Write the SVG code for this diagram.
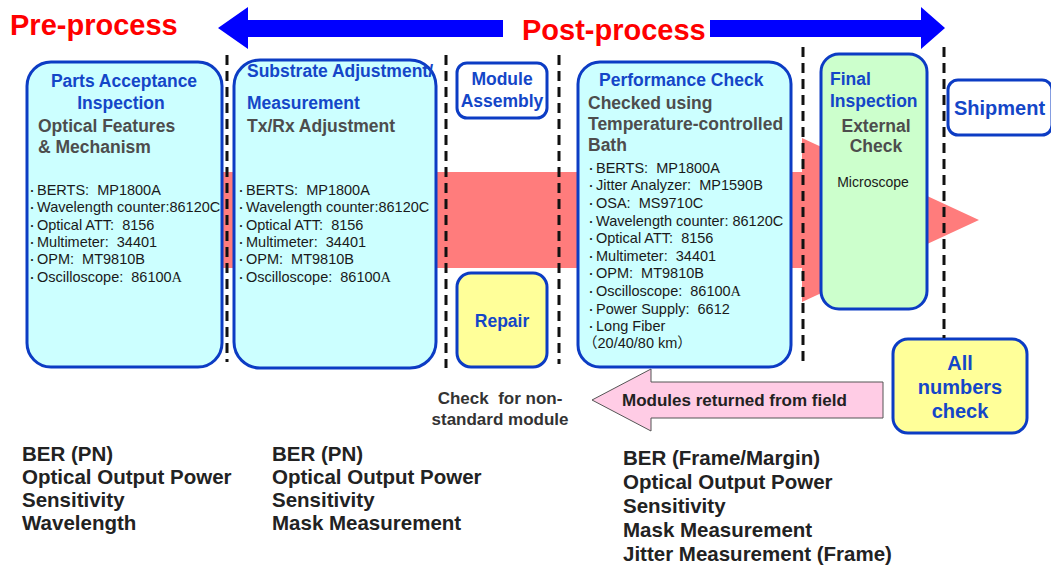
<svg xmlns="http://www.w3.org/2000/svg" width="1051" height="569" viewBox="0 0 1051 569">
<style>
text{font-family:"Liberation Sans",Arial,"Noto Sans CJK JP",sans-serif;white-space:pre}
.box{stroke:#0c3cc4;stroke-width:3}
.cyan{fill:#ccffff}.green{fill:#ccffcc}.yellow{fill:#ffff99}.white{fill:#ffffff}
.ttl{font-weight:bold;font-size:17.5px;fill:#1446c8}
.sub{font-weight:bold;font-size:17.5px;fill:#4d4d4d}
.li{font-size:14.5px;fill:#1a1a1a}
.b{font-size:10px}
.bot{font-weight:bold;font-size:20.5px;fill:#222}
.big{font-weight:bold;font-size:29px;fill:#ff0000}
.dash{stroke:#111;stroke-width:3;stroke-dasharray:10 6;fill:none}
.ser{font-family:"Liberation Serif","Times New Roman",serif}
</style>
<g id="flow-band">
<polygon points="222,172 802,172 802,138 979,220 802,302 802,268 222,268" fill="#ff7c7c"/>
</g>
<g id="direction-arrows">
<polygon points="218,28 248,7 248,20 503,20 503,37 248,37 248,49" fill="#0000ff"/>
<polygon points="945,28 921,7 921,20 710,20 710,37 921,37 921,49" fill="#0000ff"/>
<text class="big" x="10" y="35">Pre-process</text>
<text class="big" x="522" y="40">Post-process</text>
</g>
<g id="parts-acceptance">
<rect class="box cyan" x="27" y="62" width="195" height="305" rx="24"/>
<text class="ttl" x="124" y="87" text-anchor="middle">Parts Acceptance</text>
<text class="ttl" x="121" y="109" text-anchor="middle">Inspection</text>
<text class="sub" x="38" y="132">Optical Features</text>
<text class="sub" x="38" y="153">&amp; Mechanism</text>
<text class="li" x="27" y="195"><tspan class="b">・</tspan><tspan x="37">BERTS:  MP1800A</tspan></text>
<text class="li" x="27" y="212"><tspan class="b">・</tspan><tspan x="37">Wavelength counter:86120C</tspan></text>
<text class="li" x="27" y="230"><tspan class="b">・</tspan><tspan x="37">Optical ATT:  8156</tspan></text>
<text class="li" x="27" y="247"><tspan class="b">・</tspan><tspan x="37">Multimeter:  34401</tspan></text>
<text class="li" x="27" y="264"><tspan class="b">・</tspan><tspan x="37">OPM:  MT9810B</tspan></text>
<text class="li" x="27" y="282"><tspan class="b">・</tspan><tspan x="37">Oscilloscope:  86100</tspan><tspan class="ser">A</tspan></text>
</g>
<g id="substrate-adjustment">
<rect class="box cyan" x="234" y="60" width="202" height="308" rx="26"/>
<text class="ttl" x="247" y="77">Substrate Adjustment/</text>
<text class="ttl" x="247" y="109">Measurement</text>
<text class="sub" x="247" y="132">Tx/Rx Adjustment</text>
<text class="li" x="236" y="195"><tspan class="b">・</tspan><tspan x="246">BERTS:  MP1800A</tspan></text>
<text class="li" x="236" y="212"><tspan class="b">・</tspan><tspan x="246">Wavelength counter:86120C</tspan></text>
<text class="li" x="236" y="230"><tspan class="b">・</tspan><tspan x="246">Optical ATT:  8156</tspan></text>
<text class="li" x="236" y="247"><tspan class="b">・</tspan><tspan x="246">Multimeter:  34401</tspan></text>
<text class="li" x="236" y="264"><tspan class="b">・</tspan><tspan x="246">OPM:  MT9810B</tspan></text>
<text class="li" x="236" y="282"><tspan class="b">・</tspan><tspan x="246">Oscilloscope:  86100</tspan><tspan class="ser">A</tspan></text>
</g>
<g id="module-assembly">
<rect class="box white" x="457" y="63" width="90" height="55" rx="10"/>
<text class="ttl" x="502" y="85" text-anchor="middle">Module</text>
<text class="ttl" x="502" y="107" text-anchor="middle">Assembly</text>
</g>
<g id="repair">
<rect class="box yellow" x="457" y="273" width="90" height="94" rx="14"/>
<text class="ttl" x="502" y="327" text-anchor="middle">Repair</text>
</g>
<g id="performance-check">
<rect class="box cyan" x="578" y="62" width="213" height="305" rx="22"/>
<text class="ttl" x="599" y="86">Performance Check</text>
<text class="sub" x="588" y="109">Checked using</text>
<text class="sub" x="588" y="130">Temperature-controlled</text>
<text class="sub" x="588" y="151">Bath</text>
<text class="li" x="586" y="173"><tspan class="b">・</tspan><tspan x="596">BERTS:  MP1800A</tspan></text>
<text class="li" x="586" y="190"><tspan class="b">・</tspan><tspan x="596">Jitter Analyzer:  MP1590B</tspan></text>
<text class="li" x="586" y="208"><tspan class="b">・</tspan><tspan x="596">OSA:  MS9710C</tspan></text>
<text class="li" x="586" y="226"><tspan class="b">・</tspan><tspan x="596">Wavelength counter: 86120C</tspan></text>
<text class="li" x="586" y="243"><tspan class="b">・</tspan><tspan x="596">Optical ATT:  8156</tspan></text>
<text class="li" x="586" y="261"><tspan class="b">・</tspan><tspan x="596">Multimeter:  34401</tspan></text>
<text class="li" x="586" y="278"><tspan class="b">・</tspan><tspan x="596">OPM:  MT9810B</tspan></text>
<text class="li" x="586" y="296"><tspan class="b">・</tspan><tspan x="596">Oscilloscope:  86100</tspan><tspan class="ser">A</tspan></text>
<text class="li" x="586" y="314"><tspan class="b">・</tspan><tspan x="596">Power Supply:  6612</tspan></text>
<text class="li" x="586" y="331"><tspan class="b">・</tspan><tspan x="596">Long Fiber</tspan></text>
<text class="li" x="583" y="348">（20/40/80 km）</text>
</g>
<g id="final-inspection">
<rect class="box green" x="821" y="54" width="106" height="255" rx="18"/>
<text class="ttl" x="830" y="85">Final</text>
<text class="ttl" x="830" y="107">Inspection</text>
<text class="sub" x="876" y="132" text-anchor="middle">External</text>
<text class="sub" x="876" y="152" text-anchor="middle">Check</text>
<text class="li" x="873" y="187" text-anchor="middle" style="font-size:14px">Microscope</text>
</g>
<g id="shipment">
<rect class="box white" x="948" y="80" width="104" height="55" rx="10"/>
<text class="ttl" x="954" y="115" style="font-size:20px">Shipment</text>
</g>
<g id="all-numbers-check">
<rect class="box yellow" x="893" y="339" width="134" height="94" rx="15"/>
<text class="ttl" x="960" y="370" text-anchor="middle" style="font-size:20px">All</text>
<text class="ttl" x="960" y="394" text-anchor="middle" style="font-size:20px">numbers</text>
<text class="ttl" x="960" y="418" text-anchor="middle" style="font-size:20px">check</text>
</g>
<g id="connectors">
<line class="dash" x1="227" y1="55" x2="227" y2="362"/>
<line class="dash" x1="446" y1="55" x2="446" y2="368"/>
<line class="dash" x1="559" y1="55" x2="559" y2="364"/>
<line class="dash" x1="803" y1="47" x2="803" y2="362"/>
<line class="dash" x1="944" y1="47" x2="944" y2="338"/>
</g>
<g id="returned-modules">
<polygon points="592,400 651,369 651,382 883,382 883,418 651,418 651,431" fill="#ffcce5" stroke="#555" stroke-width="1"/>
<text x="622" y="406" style="font-weight:bold;font-size:17px;fill:#222">Modules returned from field</text>
</g>
<g id="non-standard-check">
<text x="500" y="404" text-anchor="middle" style="font-weight:bold;font-size:17px;fill:#333">Check  for non-</text>
<text x="500" y="425" text-anchor="middle" style="font-weight:bold;font-size:17px;fill:#333">standard module</text>
</g>
<g id="results-1">
<text class="bot" x="22" y="461">BER (PN)</text>
<text class="bot" x="22" y="484">Optical Output Power</text>
<text class="bot" x="22" y="507">Sensitivity</text>
<text class="bot" x="22" y="530">Wavelength</text>
</g>
<g id="results-2">
<text class="bot" x="272" y="461">BER (PN)</text>
<text class="bot" x="272" y="484">Optical Output Power</text>
<text class="bot" x="272" y="507">Sensitivity</text>
<text class="bot" x="272" y="530">Mask Measurement</text>
</g>
<g id="results-3">
<text class="bot" x="623" y="465">BER (Frame/Margin)</text>
<text class="bot" x="623" y="489">Optical Output Power</text>
<text class="bot" x="623" y="513">Sensitivity</text>
<text class="bot" x="623" y="537">Mask Measurement</text>
<text class="bot" x="623" y="561">Jitter Measurement (Frame)</text>
</g>
</svg>
